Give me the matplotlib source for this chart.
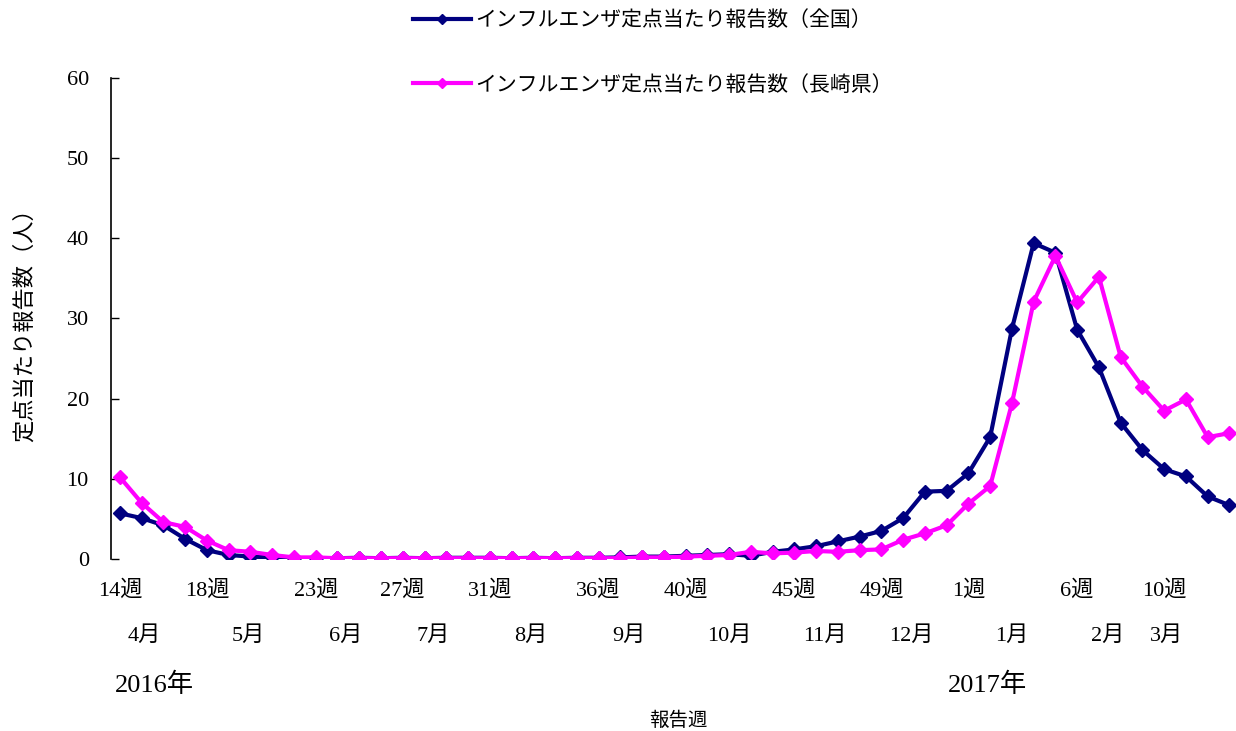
import matplotlib
matplotlib.use("Agg")
import matplotlib.pyplot as plt

plt.rcParams['font.family'] = ['Liberation Serif', 'Noto Sans CJK JP', 'DejaVu Sans']

# 2016 week 14 .. 2017 week 13
week_idx = list(range(52))

# per-sentinel influenza reports
national = [5.7, 5.1, 4.2, 2.5, 1.1, 0.5, 0.3, 0.2, 0.1, 0.1,
            0.1, 0.15, 0.1, 0.15, 0.1, 0.15, 0.15, 0.15, 0.1, 0.15,
            0.1, 0.15, 0.15, 0.2, 0.3, 0.3, 0.4, 0.5, 0.6, 0.4,
            0.9, 1.2, 1.6, 2.2, 2.8, 3.5, 5.1, 8.4, 8.5, 10.7,
            15.2, 28.7, 39.4, 38.2, 28.6, 23.9, 17.0, 13.6, 11.2, 10.3,
            7.8, 6.7]
nagasaki = [10.2, 7.0, 4.6, 4.0, 2.3, 1.1, 0.9, 0.5, 0.2, 0.2,
            0.1, 0.1, 0.1, 0.1, 0.1, 0.1, 0.1, 0.1, 0.1, 0.1,
            0.1, 0.1, 0.1, 0.1, 0.2, 0.2, 0.3, 0.4, 0.5, 0.9,
            0.7, 0.8, 1.0, 0.9, 1.1, 1.2, 2.4, 3.2, 4.2, 6.9,
            9.1, 19.4, 32.1, 37.8, 32.0, 35.2, 25.2, 21.5, 18.5, 19.9,
            15.2, 15.7]

week_ticks = [0, 4, 9, 13, 17, 22, 26, 31, 35, 39, 44, 48]
week_labels = ['14週', '18週', '23週', '27週', '31週', '36週',
               '40週', '45週', '49週', '1週', '6週', '10週']

# month labels sit between week ticks (x in week index units)
month_pos = [1.1, 5.9, 10.4, 14.4, 18.9, 23.4, 28.0, 32.4, 36.4, 41.0, 45.4, 48.1]
month_labels = ['4月', '5月', '6月', '7月', '8月', '9月',
                '10月', '11月', '12月', '1月', '2月', '3月']

year_pos = [1.6, 39.9]
year_labels = ['2016年', '2017年']

navy = '#000080'
magenta = '#FF00FF'
cjk = ['Noto Sans CJK JP', 'DejaVu Sans']

fig = plt.figure(figsize=(12.36, 7.31), dpi=100)
ax = fig.add_axes([111 / 1236, 172 / 731, 1125 / 1236, 481 / 731])

ax.plot(week_idx, national, color=navy, lw=3.0, marker='D', ms=7.5,
        label='インフルエンザ定点当たり報告数（全国）')
ax.plot(week_idx, nagasaki, color=magenta, lw=3.0, marker='D', ms=7.5,
        label='インフルエンザ定点当たり報告数（長崎県）')

ax.set_xlim(-0.41, 51.3)
ax.set_ylim(0, 60)
ax.set_yticks(range(0, 61, 10))
ax.tick_params(axis='y', direction='in', length=6, width=1, labelsize=16, pad=16)
ax.set_xticks([])
for s in ['top', 'right', 'bottom']:
    ax.spines[s].set_visible(False)
ax.spines['left'].set_linewidth(1.2)

# week, month and year rows under the plot
trans = ax.get_xaxis_transform()
for x, t in zip(week_ticks, week_labels):
    ax.text(x, -0.065, t, transform=trans, ha='center', va='center', fontsize=16)
for x, t in zip(month_pos, month_labels):
    ax.text(x, -0.16, t, transform=trans, ha='center', va='center', fontsize=16)
for x, t in zip(year_pos, year_labels):
    ax.text(x, -0.262, t, transform=trans, ha='center', va='center', fontsize=19)

fig.text(678 / 1236, 1 - 720 / 731, '報告週', ha='center', va='center',
         fontsize=14, family=cjk)
fig.text(24 / 1236, 1 - 320 / 731, '定点当たり報告数（人）', rotation=90,
         ha='center', va='center', fontsize=16, family=cjk)

leg = fig.legend(loc='upper left', bbox_to_anchor=(413 / 1236, 1 - 9 / 731),
                 frameon=False, borderpad=0, borderaxespad=0,
                 handlelength=2.8, handletextpad=0.2, labelspacing=2.05,
                 prop={'family': cjk, 'size': 15})
for h in leg.legend_handles:
    h.set_markersize(5)

fig.savefig('out.png', dpi=100)
